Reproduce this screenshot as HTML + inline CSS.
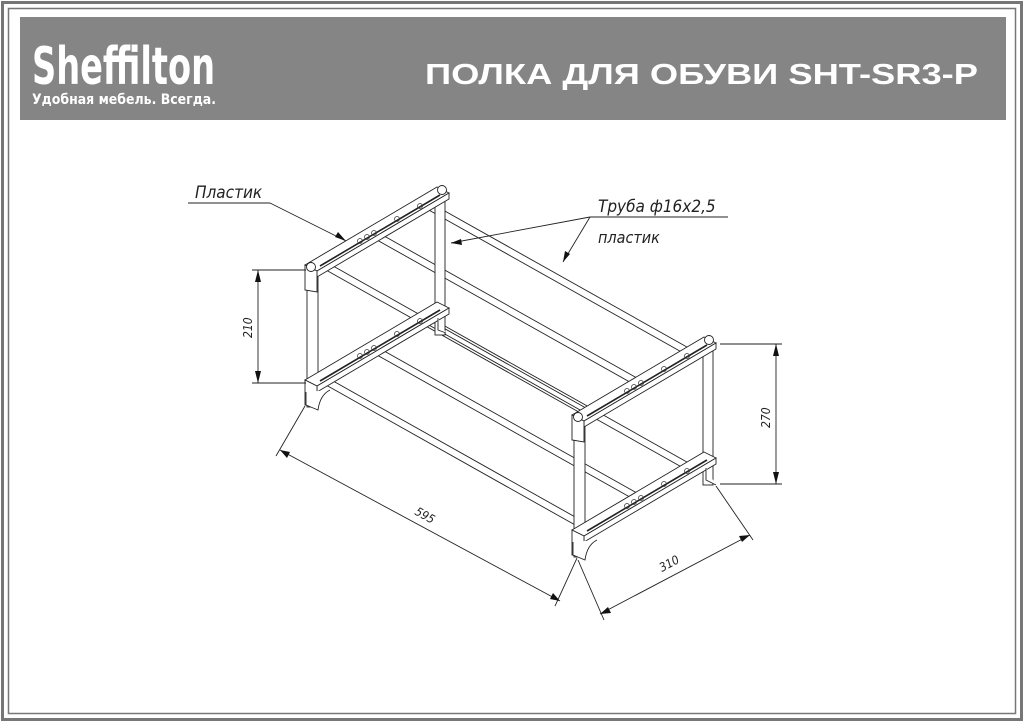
<!DOCTYPE html>
<html><head><meta charset="utf-8"><style>
html,body{margin:0;padding:0;background:#fff}
svg{display:block}
</style></head><body>
<svg width="1024" height="722" viewBox="0 0 1024 722" xmlns="http://www.w3.org/2000/svg" font-family="Liberation Sans, DejaVu Sans, sans-serif">
<rect x="0" y="0" width="1024" height="722" fill="#fff"/>
<rect x="2.5" y="2.5" width="1019" height="717" fill="none" stroke="#777" stroke-width="3"/>
<rect x="8.5" y="8.5" width="1007" height="705" fill="none" stroke="#777" stroke-width="1.5"/>
<rect x="20" y="17" width="986" height="103" fill="#858585"/>
<text x="32" y="84" fill="#fff" font-size="52" font-weight="bold" font-family="DejaVu Sans Condensed, DejaVu Sans, sans-serif" textLength="183" lengthAdjust="spacingAndGlyphs">Sheffilton</text>
<text x="32" y="104" fill="#fff" font-size="14" font-weight="bold" font-family="DejaVu Sans, sans-serif" textLength="184" lengthAdjust="spacingAndGlyphs">Удобная мебель. Всегда.</text>
<text x="425" y="84" fill="#fff" font-size="29" font-weight="bold" textLength="553" lengthAdjust="spacingAndGlyphs">ПОЛКА ДЛЯ ОБУВИ SHT-SR3-P</text>

<g stroke="#222" stroke-width="0.9" fill="#fff">
<g>
<line x1="326" y1="262" x2="593" y2="412"/><line x1="326" y1="270" x2="593" y2="420"/>
<line x1="377" y1="232" x2="644" y2="382"/><line x1="377" y1="240" x2="644" y2="390"/>
<line x1="427" y1="201" x2="694" y2="351"/><line x1="427" y1="209" x2="694" y2="359"/>
<line x1="326" y1="377" x2="593" y2="527"/><line x1="326" y1="385" x2="593" y2="535"/>
<line x1="377" y1="347" x2="644" y2="497"/><line x1="377" y1="355" x2="644" y2="505"/>
<line x1="427" y1="316" x2="694" y2="466"/><line x1="427" y1="324" x2="694" y2="474"/>
</g>
<rect x="435" y="195" width="10" height="140"/>
<rect x="703" y="345" width="10" height="140"/>
<rect x="307" y="272" width="11" height="135"/>
<rect x="574" y="422" width="11" height="135"/>
<g id="ep">
<polygon points="305,265 437,187 449,193 317,271"/>
<polygon points="317,271 449,193 449,199 317,277"/>
<polygon points="305,265 317,271 317,292 305,290"/>
<line x1="320" y1="266" x2="440" y2="195" stroke-width="1.6"/>
</g>
<g transform="translate(0,115)">
<polygon points="305,265 437,187 449,193 317,271"/>
<polygon points="317,271 449,193 449,199 317,277"/>
<polygon points="305,265 317,271 317,292 305,290"/>
<line x1="320" y1="266" x2="440" y2="195" stroke-width="1.6"/>
</g>
<g transform="translate(267,150)">
<polygon points="305,265 437,187 449,193 317,271"/>
<polygon points="317,271 449,193 449,199 317,277"/>
<polygon points="305,265 317,271 317,292 305,290"/>
<line x1="320" y1="266" x2="440" y2="195" stroke-width="1.6"/>
</g>
<g transform="translate(267,265)">
<polygon points="305,265 437,187 449,193 317,271"/>
<polygon points="317,271 449,193 449,199 317,277"/>
<polygon points="305,265 317,271 317,292 305,290"/>
<line x1="320" y1="266" x2="440" y2="195" stroke-width="1.6"/>
</g>
<circle cx="311" cy="267" r="4.5"/><circle cx="442" cy="190" r="4.5"/>
<circle cx="578" cy="417" r="4.5"/><circle cx="709" cy="340" r="4.5"/>
<path d="M306,392 L306,405 L318,410 Q320,395 330,390"/>
<path d="M573,542 L573,555 L585,560 Q587,545 597,540"/>
<path d="M438,318 L438,330 L446,333"/>
<path d="M706,468 L706,480 L716,485"/>
</g>
<g fill="none" stroke="#333" stroke-width="0.7">
<circle cx="360" cy="241" r="2.5"/><circle cx="367" cy="237" r="2.5"/><circle cx="374" cy="233" r="2.5"/><circle cx="397" cy="219" r="2.5"/><circle cx="420" cy="206" r="2.5"/>
<circle cx="360" cy="356" r="2.5"/><circle cx="367" cy="352" r="2.5"/><circle cx="374" cy="348" r="2.5"/><circle cx="397" cy="334" r="2.5"/><circle cx="420" cy="321" r="2.5"/>
<circle cx="627" cy="391" r="2.5"/><circle cx="634" cy="387" r="2.5"/><circle cx="641" cy="383" r="2.5"/><circle cx="664" cy="369" r="2.5"/><circle cx="687" cy="356" r="2.5"/>
<circle cx="627" cy="506" r="2.5"/><circle cx="634" cy="502" r="2.5"/><circle cx="641" cy="498" r="2.5"/><circle cx="664" cy="484" r="2.5"/><circle cx="687" cy="471" r="2.5"/>
</g>

<g stroke="#222" stroke-width="0.9" fill="none">
<line x1="252" y1="270" x2="306" y2="270"/><line x1="252" y1="383" x2="306" y2="383"/>
<line x1="258" y1="270" x2="258" y2="383"/>
<line x1="720" y1="344" x2="782" y2="344"/><line x1="720" y1="484" x2="782" y2="484"/>
<line x1="776" y1="344" x2="776" y2="484"/>
<line x1="305" y1="406" x2="276" y2="456"/><line x1="577" y1="558" x2="555" y2="606"/>
<line x1="280" y1="450" x2="560" y2="601"/>
<line x1="578" y1="560" x2="604" y2="620"/><line x1="716" y1="486" x2="753" y2="540"/>
<line x1="600" y1="614" x2="750" y2="535"/>
<line x1="188" y1="203" x2="270" y2="203"/><line x1="270" y1="203" x2="346" y2="241"/>
<line x1="590" y1="217" x2="728" y2="217"/><line x1="590" y1="217" x2="451" y2="243"/>
<line x1="590" y1="217" x2="563" y2="262"/>
</g>
<g fill="#111">
<polygon points="258,270 255,282 261,282"/><polygon points="258,383 255,371 261,371"/>
<polygon points="776,344 773,356 779,356"/><polygon points="776,484 773,472 779,472"/>
<polygon points="280,450 290,452 287,458"/><polygon points="560,601 550,599 553,593"/>
<polygon points="600,614 608,607 611,613"/><polygon points="750,535 742,542 739,536"/>
<polygon points="346,241 335,237 338,232"/><polygon points="451,243 461,239 462,245"/>
<polygon points="563,262 565,251 570,254"/>
</g>
<g font-family="DejaVu Sans Condensed, DejaVu Sans, sans-serif" font-style="italic" font-weight="300" fill="#222">
<text x="195" y="198" font-size="17">Пластик</text>
<text x="598" y="212" font-size="17">Труба ф16х2,5</text>
<text x="598" y="243" font-size="16">пластик</text>
<text font-size="12" transform="translate(252,338) rotate(-90)">210</text>
<text font-size="12" transform="translate(770,428) rotate(-90)">270</text>
<text font-size="12" transform="translate(414,514) rotate(29)">595</text>
<text font-size="12" transform="translate(662,572) rotate(-28)">310</text>
</g>
</svg>
</body></html>
